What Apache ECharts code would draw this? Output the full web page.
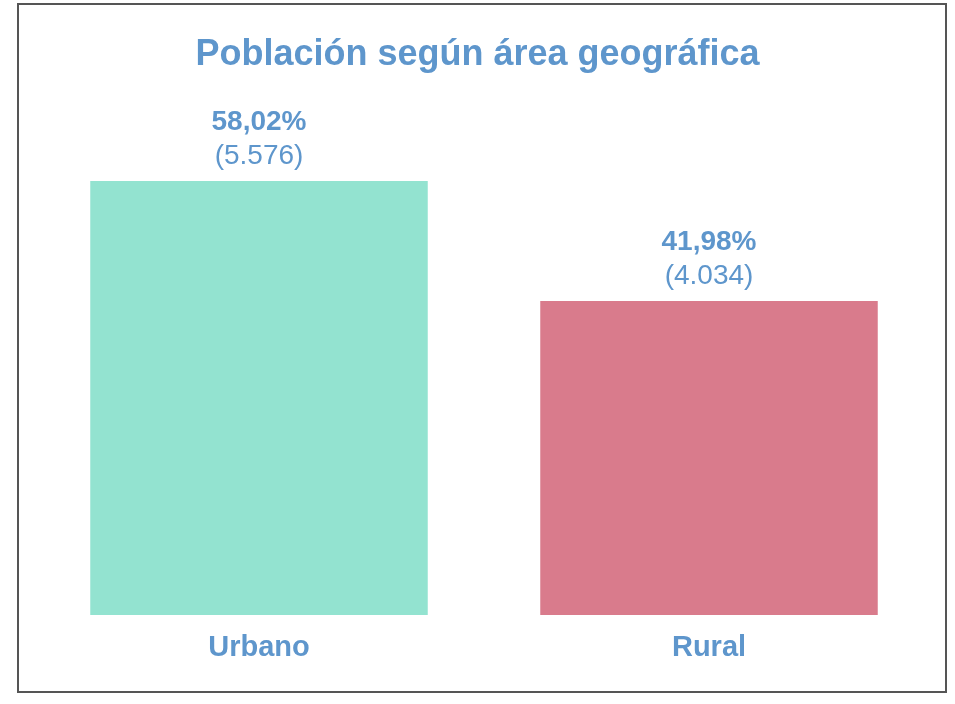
<!DOCTYPE html>
<html>
<head>
<meta charset="utf-8">
<script src="https://cdn.jsdelivr.net/npm/echarts@6/dist/echarts.min.js"></script>
<style>
  html, body { margin: 0; padding: 0; background: #fff; }
  #chart { width: 955px; height: 704px; }
</style>
</head>
<body>
<div id="chart"></div>
<script>
var categories = ["Urbano", "Rural"];
var values = [5576, 4034];
var percents = ["58,02%", "41,98%"];
var barColors = ["#93e3d0", "#d97b8c"];

var labelBlue = "#5e96cc";

function fmtThousands(n) {
  return String(n).replace(/\B(?=(\d{3})+(?!\d))/g, ".");
}

var myEcharts = echarts.init(document.getElementById("chart"));
myEcharts.setOption({
  backgroundColor: "#ffffff",
  graphic: [
    {
      type: "rect",
      shape: { x: 18, y: 4, width: 928, height: 688 },
      style: { fill: "none", stroke: "#555", lineWidth: 2 },
      z: -1
    }
  ],
  title: {
    text: "Población según área geográfica",
    left: "center",
    top: 32,
    textStyle: {
      fontFamily: "Liberation Sans",
      fontSize: 36,
      fontWeight: "bold",
      color: labelBlue
    }
  },
  grid: {
    left: 34,
    right: 21,
    top: 148,
    bottom: 89
  },
  xAxis: {
    type: "category",
    data: categories,
    axisLine: { show: false },
    axisTick: { show: false },
    axisLabel: {
      margin: 18,
      fontFamily: "Liberation Sans",
      fontSize: 29,
      fontWeight: "bold",
      color: labelBlue
    }
  },
  yAxis: {
    type: "value",
    min: 0,
    max: 6000,
    show: false,
    splitLine: { show: false }
  },
  series: [
    {
      type: "bar",
      barWidth: "75%",
      data: values.map(function (v, i) {
        return { value: v, itemStyle: { color: barColors[i] } };
      }),
      label: {
        show: true,
        position: "top",
        distance: 8,
        formatter: function (p) {
          return "{p|" + percents[p.dataIndex] + "}\n{n|(" + fmtThousands(p.value) + ")}";
        },
        rich: {
          p: {
            fontFamily: "Liberation Sans",
            fontSize: 28,
            fontWeight: "bold",
            color: labelBlue,
            lineHeight: 34
          },
          n: {
            fontFamily: "Liberation Sans",
            fontSize: 28,
            color: labelBlue,
            lineHeight: 34
          }
        }
      }
    }
  ]
});
</script>
</body>
</html>
